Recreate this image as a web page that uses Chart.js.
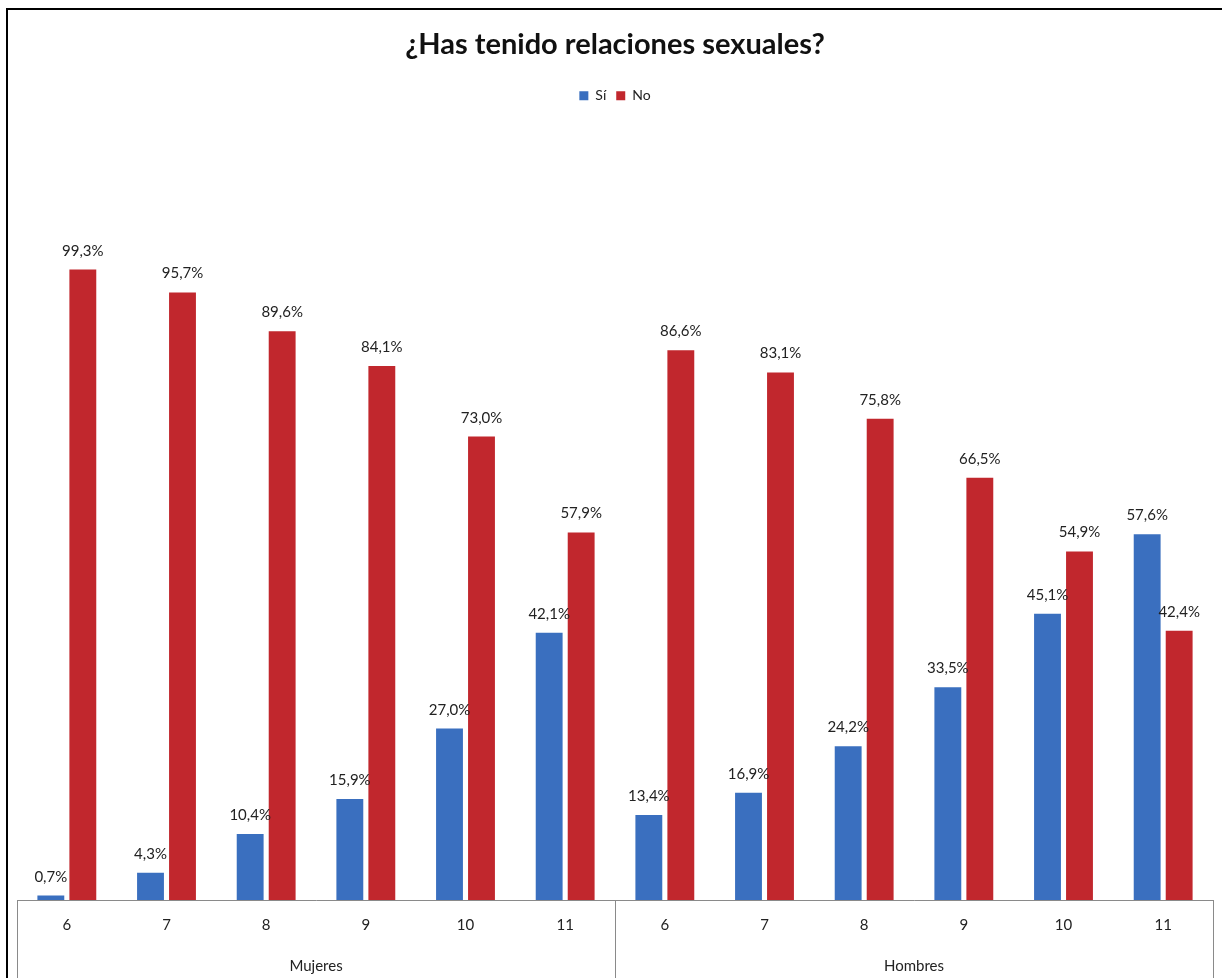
<!DOCTYPE html>
<html>
<head>
<meta charset="utf-8">
<script src="https://cdn.jsdelivr.net/npm/chart.js@4"></script>
<style>
  html, body { margin: 0; padding: 0; background: #fff; overflow: hidden; }
  #wrap { position: relative; width: 1222px; height: 978px; }
  #frame { position: absolute; left: 6px; top: 8px; width: 1300px; height: 1000px;
           border-top: 2px solid #000; border-left: 2px solid #000; pointer-events: none; }
</style>
</head>
<body>
<div id="wrap">
  <canvas id="chart1" width="1222" height="978"></canvas>
  <div id="frame"></div>
</div>
<script>
const grades = ['6', '7', '8', '9', '10', '11', '6', '7', '8', '9', '10', '11'];
const groups = ['Mujeres', 'Hombres'];
const si = [0.7, 4.3, 10.4, 15.9, 27.0, 42.1, 13.4, 16.9, 24.2, 33.5, 45.1, 57.6];
const no = [99.3, 95.7, 89.6, 84.1, 73.0, 57.9, 86.6, 83.1, 75.8, 66.5, 54.9, 42.4];

const fontName = 'Lato, "Open Sans", sans-serif';

// etiquetas de valor encima de cada barra
const valueLabels = {
    id: 'valueLabels',
    afterDatasetsDraw(chart) {
        const ctx = chart.ctx;
        ctx.save();
        ctx.font = '15px ' + fontName;
        ctx.fillStyle = '#222';
        ctx.textAlign = 'center';
        ctx.textBaseline = 'alphabetic';
        chart.data.datasets.forEach((ds, i) => {
            chart.getDatasetMeta(i).data.forEach((bar, j) => {
                const txt = ds.data[j].toFixed(1).replace('.', ',') + '%';
                ctx.fillText(txt, bar.x, bar.y - 14);
            });
        });
        ctx.restore();
    }
};

// marco del eje x con separación entre grupos
const groupBox = {
    id: 'groupBox',
    afterDraw(chart) {
        const ctx = chart.ctx;
        const x = chart.scales.x;
        const mid = (x.getPixelForValue(5) + x.getPixelForValue(6)) / 2;
        ctx.save();
        ctx.strokeStyle = '#8a8a8a';
        ctx.lineWidth = 1;
        [x.left, mid, x.right].forEach(px => {
            ctx.beginPath();
            ctx.moveTo(Math.round(px) + 0.5, chart.chartArea.bottom);
            ctx.lineTo(Math.round(px) + 0.5, chart.height);
            ctx.stroke();
        });
        ctx.restore();
    }
};

let chart1 = document.getElementById('chart1');

new Chart(chart1, {
    type: 'bar',
    data: {
        labels: grades,
        datasets: [
            {
                label: 'Sí',
                data: si,
                backgroundColor: '#3a6fbf',
                borderWidth: 0
            },
            {
                label: 'No',
                data: no,
                backgroundColor: '#c1272d',
                borderWidth: 0
            }
        ]
    },
    plugins: [valueLabels, groupBox],
    options: {
        responsive: false,
        animation: false,
        layout: {
            padding: { top: 0, left: 17, right: 9, bottom: 0 }
        },
        datasets: {
            bar: {
                categoryPercentage: 0.642,
                barPercentage: 0.84
            }
        },
        plugins: {
            title: {
                display: true,
                text: '¿Has tenido relaciones sexuales?',
                color: '#111',
                font: { family: fontName, size: 29, weight: 'bold' },
                padding: { top: 27, bottom: 17 }
            },
            legend: {
                display: true,
                labels: {
                    boxWidth: 9,
                    boxHeight: 9,
                    color: '#222',
                    font: { family: fontName, size: 14 },
                    padding: 10
                }
            },
            tooltip: { enabled: false }
        },
        scales: {
            x: {
                position: 'bottom',
                grid: { display: false, drawTicks: false },
                border: { display: true, color: '#8a8a8a' },
                ticks: {
                    color: '#222',
                    padding: 16,
                    font: { family: fontName, size: 15 }
                },
                afterFit: s => { s.height = 45; }
            },
            x2: {
                type: 'category',
                labels: groups,
                position: 'bottom',
                grid: { display: false, drawTicks: false },
                border: { display: false },
                ticks: {
                    color: '#222',
                    padding: 12,
                    font: { family: fontName, size: 15 }
                },
                afterFit: s => { s.height = 33; }
            },
            y: {
                display: false,
                min: 0,
                max: 124
            }
        }
    }
});
</script>
</body>
</html>
